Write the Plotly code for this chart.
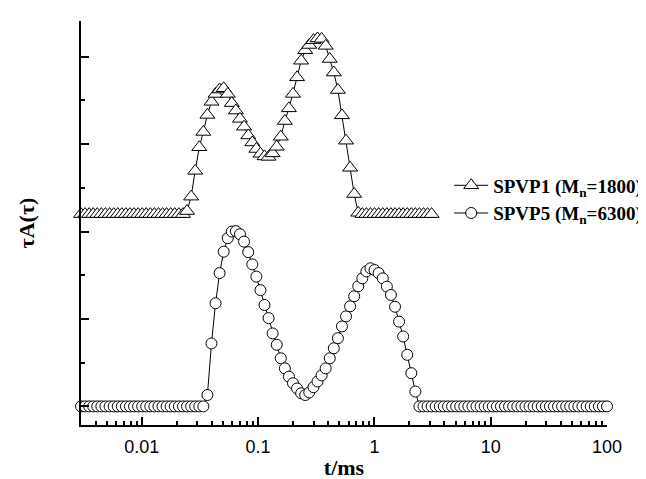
import plotly.graph_objects as go

# log10(t/ms) sampling grid
log_t = [
    -2.523, -2.488, -2.453, -2.418, -2.383, -2.348, -2.313, -2.277, -2.242, -2.207,
    -2.172, -2.137, -2.102, -2.067, -2.032, -1.997, -1.962, -1.927, -1.892, -1.857,
    -1.822, -1.787, -1.752, -1.717, -1.681, -1.646, -1.611, -1.576, -1.541, -1.506,
    -1.471, -1.436, -1.401, -1.366, -1.331, -1.296, -1.261, -1.226, -1.191, -1.156,
    -1.121, -1.085, -1.050, -1.015, -0.980, -0.945, -0.910, -0.875, -0.840, -0.805,
    -0.770, -0.735, -0.700, -0.665, -0.630, -0.595, -0.560, -0.524, -0.489, -0.454,
    -0.419, -0.384, -0.349, -0.314, -0.279, -0.244, -0.209, -0.174, -0.139, -0.104,
    -0.069, -0.034, 0.001, 0.036, 0.072, 0.107, 0.142, 0.177, 0.212, 0.247,
    0.282, 0.317, 0.352, 0.387, 0.422, 0.457, 0.492, 0.527, 0.562, 0.597,
    0.633, 0.668, 0.703, 0.738, 0.773, 0.808, 0.843, 0.878, 0.913, 0.948,
    0.983, 1.018, 1.053, 1.088, 1.123, 1.158, 1.193, 1.229, 1.264, 1.299,
    1.334, 1.369, 1.404, 1.439, 1.474, 1.509, 1.544, 1.579, 1.614, 1.649,
    1.684, 1.719, 1.754, 1.789, 1.825, 1.860, 1.895, 1.930, 1.965, 2.000,
]

# SPVP1 (Mn=1800), offset curve (triangles)
spvp1 = [
    4.40, 4.40, 4.40, 4.40, 4.40, 4.40, 4.40, 4.40, 4.40, 4.40,
    4.40, 4.40, 4.40, 4.40, 4.40, 4.40, 4.40, 4.40, 4.40, 4.40,
    4.40, 4.40, 4.40, 4.40, 4.40, 4.40, 4.47, 4.80, 5.39, 5.93,
    6.28, 6.67, 6.97, 7.15, 7.25, 7.28, 7.15, 6.94, 6.77, 6.58,
    6.40, 6.20, 6.04, 5.89, 5.78, 5.72, 5.71, 5.79, 5.94, 6.17,
    6.53, 6.82, 7.15, 7.53, 7.91, 8.15, 8.27, 8.38, 8.42, 8.41,
    8.25, 7.95, 7.64, 7.24, 6.66, 6.08, 5.46, 4.86, 4.43, 4.40,
    4.40, 4.40, 4.40, 4.40, 4.40, 4.40, 4.40, 4.40, 4.40, 4.40,
    4.40, 4.40, 4.40, 4.40, 4.40, 4.40, 4.40,
]

# SPVP5 (Mn=6300) (circles)
spvp5 = [
    0.00, 0.00, 0.00, 0.00, 0.00, 0.00, 0.00, 0.00, 0.00, 0.00,
    0.00, 0.00, 0.00, 0.00, 0.00, 0.00, 0.00, 0.00, 0.00, 0.00,
    0.00, 0.00, 0.00, 0.00, 0.00, 0.00, 0.00, 0.00, 0.00, 0.00,
    0.00, 0.26, 1.44, 2.36, 3.05, 3.54, 3.85, 4.00, 4.01, 3.94,
    3.77, 3.53, 3.25, 2.97, 2.66, 2.32, 2.02, 1.67, 1.41, 1.10,
    0.87, 0.68, 0.53, 0.41, 0.30, 0.26, 0.32, 0.44, 0.57, 0.71,
    0.87, 1.10, 1.33, 1.56, 1.83, 2.06, 2.29, 2.52, 2.75, 2.93,
    3.09, 3.16, 3.12, 3.05, 2.93, 2.74, 2.55, 2.28, 1.94, 1.60,
    1.18, 0.76, 0.34, 0.00, 0.00, 0.00, 0.00, 0.00, 0.00, 0.00,
    0.00, 0.00, 0.00, 0.00, 0.00, 0.00, 0.00, 0.00, 0.00, 0.00,
    0.00, 0.00, 0.00, 0.00, 0.00, 0.00, 0.00, 0.00, 0.00, 0.00,
    0.00, 0.00, 0.00, 0.00, 0.00, 0.00, 0.00, 0.00, 0.00, 0.00,
    0.00, 0.00, 0.00, 0.00, 0.00, 0.00, 0.00, 0.00, 0.00, 0.00,
]

x_tickvals = [0.01, 0.1, 1, 10, 100]
x_ticktext = ["0.01", "0.1", "1", "10", "100"]
minor_digits = [2, 3, 4, 5, 6, 7, 8, 9]
minor_decades = [0.001, 0.01, 0.1, 1, 10]

series_names = [
    "<b>SPVP1 (M<sub>n</sub>=1800)</b>",
    "<b>SPVP5 (M<sub>n</sub>=6300)</b>",
]

t_all = [10 ** e for e in log_t]
minor_vals = [d * m for d in minor_decades for m in minor_digits
              if 0.003 < d * m < 100]

fig = go.Figure()
fig.add_trace(go.Scatter(
    x=t_all[:len(spvp1)], y=spvp1, mode="lines+markers", name=series_names[0],
    line=dict(color="black", width=1),
    marker=dict(symbol="triangle-up", size=13, color="white",
                line=dict(color="black", width=1)),
    cliponaxis=False,
))
fig.add_trace(go.Scatter(
    x=t_all, y=spvp5, mode="lines+markers", name=series_names[1],
    line=dict(color="black", width=1),
    marker=dict(symbol="circle", size=11, color="white",
                line=dict(color="black", width=1)),
    cliponaxis=False,
))

fig.update_layout(
    width=646, height=479,
    margin=dict(l=73, r=47, t=13, b=62, autoexpand=False),
    paper_bgcolor="white", plot_bgcolor="white",
    showlegend=True,
    legend=dict(
        x=0.70, y=0.64, xanchor="left", yanchor="top",
        bgcolor="rgba(0,0,0,0)", borderwidth=0,
        font=dict(family="Liberation Serif", size=19, color="black"),
        tracegroupgap=0, itemwidth=34,
    ),
    xaxis=dict(
        type="log", range=[-2.523, 2.0],
        tickmode="array", tickvals=x_tickvals, ticktext=x_ticktext,
        ticks="inside", ticklen=8, tickwidth=2, tickcolor="black",
        ticklabelstandoff=4,
        showline=True, linewidth=2, linecolor="black", mirror=False,
        showgrid=False, zeroline=False,
        tickfont=dict(family="Liberation Sans", size=18, color="black"),
        minor=dict(tickmode="array", tickvals=minor_vals, ticks="inside",
                   ticklen=4, tickwidth=1.5, tickcolor="black", showgrid=False),
        title=dict(text="<b>t/ms</b>", standoff=4,
                   font=dict(family="Liberation Serif", size=22, color="black")),
    ),
    yaxis=dict(
        range=[-0.426, 8.819],
        tickmode="linear", tick0=0, dtick=2,
        ticks="inside", ticklen=8, tickwidth=2, tickcolor="black",
        showticklabels=False,
        showline=True, linewidth=2, linecolor="black", mirror=False,
        showgrid=False, zeroline=False,
        minor=dict(tickmode="linear", tick0=0, dtick=1, ticks="inside",
                   ticklen=4, tickwidth=1.5, tickcolor="black", showgrid=False),
        title=dict(text="<b>τA(τ)</b>", standoff=38,
                   font=dict(family="Liberation Serif", size=22, color="black")),
    ),
)

fig.write_html("out.html")
